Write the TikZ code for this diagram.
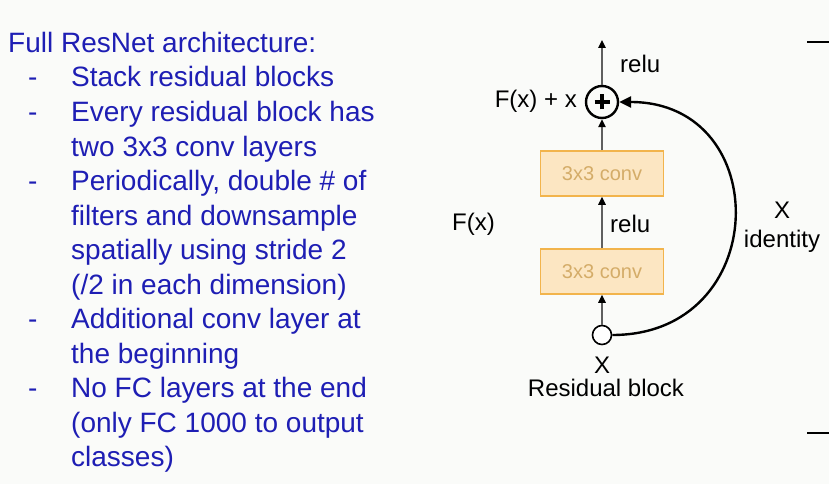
\documentclass[tikz,border=0pt]{standalone}
\usepackage{fontspec}
\setmainfont{Liberation Sans}
\usetikzlibrary{arrows.meta}

\definecolor{slideblue}{RGB}{30,30,180}
\definecolor{convfill}{RGB}{252,230,194}
\definecolor{convdraw}{RGB}{242,180,76}
\definecolor{convtext}{RGB}{212,172,104}
\definecolor{flowgray}{RGB}{95,95,95}
\definecolor{paper}{RGB}{250,251,249}

\tikzset{
  listline/.style={anchor=base west, inner sep=0pt, text=slideblue, font=\fontsize{28}{34}\selectfont},
  diaglabel/.style={inner sep=0pt, font=\fontsize{24}{28}\selectfont},
  convbox/.style={draw=convdraw, fill=convfill, line width=1.6pt, minimum width=123pt, minimum height=45pt,
    inner sep=0pt, text=convtext, font=\fontsize{20}{22}\selectfont},
  flow/.style={flowgray, line width=1.4pt, -{Triangle[length=8pt,width=7.5pt,color=black]}},
  skip/.style={black, line width=2.4pt, -{Triangle[length=12pt,width=11pt]}}
}

\begin{document}
\begin{tikzpicture}[x=1pt,y=-1pt]
  \useasboundingbox[fill=paper] (0,0) rectangle (829,484);

  % Liste
  \node[listline] (title) at (8,53) {Full ResNet architecture:};
  \node[listline] (d1) at (28,87) {-};
  \node[listline] (i1) at (71,87) {Stack residual blocks};
  \node[listline] (d2) at (28,121.5) {-};
  \node[listline] (i2a) at (71,121.5) {Every residual block has};
  \node[listline] (i2b) at (71,156) {two 3x3 conv layers};
  \node[listline] (d3) at (28,190.5) {-};
  \node[listline] (i3a) at (71,190.5) {Periodically, double \# of};
  \node[listline] (i3b) at (71,225) {filters and downsample};
  \node[listline] (i3c) at (71,259.5) {spatially using stride 2};
  \node[listline] (i3d) at (71,294) {(/2 in each dimension)};
  \node[listline] (d4) at (28,328.5) {-};
  \node[listline] (i4a) at (71,328.5) {Additional conv layer at};
  \node[listline] (i4b) at (71,363) {the beginning};
  \node[listline] (d5) at (28,397.5) {-};
  \node[listline] (i5a) at (71,397.5) {No FC layers at the end};
  \node[listline] (i5b) at (71,432) {(only FC 1000 to output};
  \node[listline] (i5c) at (71,466.5) {classes)};

  % Bloc residuel
  \node[draw, circle, line width=1.6pt, minimum size=19pt, inner sep=0pt, fill=white] (xin) at (602,335) {};
  \node[convbox] (convbot) at (602,271.5) {3x3 conv};
  \node[convbox] (convtop) at (602,173.5) {3x3 conv};
  \node[draw, circle, line width=2.4pt, minimum size=32pt, inner sep=0pt,
    path picture={\draw[line width=4pt] (path picture bounding box.center) ++(-7.5pt,0pt) -- ++(15pt,0pt);
                  \draw[line width=4pt] (path picture bounding box.center) ++(0pt,-7.5pt) -- ++(0pt,15pt);}] (sum) at (602,102) {};
  \coordinate (out) at (602,40);

  \draw[flow] (xin) -- (convbot);
  \draw[flow] (convbot) -- (convtop);
  \draw[flow] (convtop) -- (sum);
  \draw[flow] (sum) -- (out);
  \draw[skip] (xin.east) .. controls +(160,0) and +(156,0) .. (sum.east);

  % Etiquettes
  \node[diaglabel, anchor=base west] (relutop) at (620,73) {relu};
  \node[diaglabel, anchor=base east] (fxsum) at (577,108) {F(x) + x};
  \node[diaglabel, anchor=base west] (relumid) at (610,232) {relu};
  \node[diaglabel, anchor=base west] (fx) at (452,230) {F(x)};
  \node[diaglabel, anchor=base] (xlbl) at (602,373) {X};
  \node[diaglabel, anchor=base] (blocklbl) at (606,396) {Residual block};
  \node[diaglabel, anchor=base] (xid) at (782,218) {X};
  \node[diaglabel, anchor=base] (idlbl) at (782,247) {identity};

  % Bord droit
  \draw[line width=2pt] (807,42) -- (829,42);
  \draw[line width=2pt] (807,433) -- (829,433);
\end{tikzpicture}
\end{document}
